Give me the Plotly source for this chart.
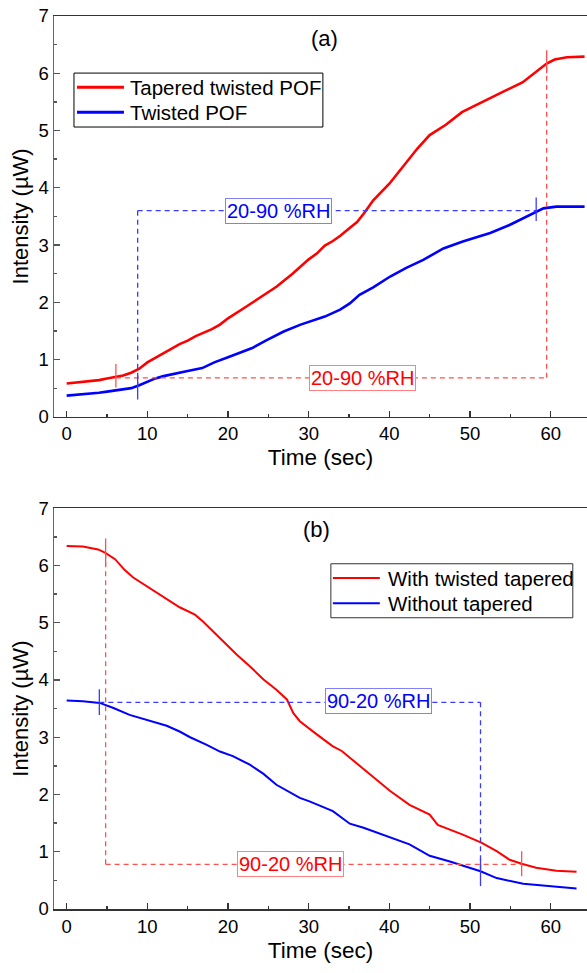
import plotly.graph_objects as go

# ---------------- data ----------------
t_a_red = [0, 2, 4, 5, 6, 7, 8, 9, 10, 11, 12, 13, 14, 15, 16, 17, 18, 19, 20, 22, 24, 26, 28,
           30, 31, 32, 33, 34, 35, 36, 37, 38, 40, 42, 43.5, 45, 47, 49, 51.5, 54, 56.5, 58,
           59.5, 60.5, 62, 64.2]
I_a_red = [0.58, 0.61, 0.64, 0.67, 0.69, 0.72, 0.77, 0.84, 0.95, 1.03, 1.10, 1.18, 1.27, 1.33,
           1.41, 1.47, 1.53, 1.61, 1.72, 1.90, 2.08, 2.27, 2.50, 2.75, 2.85, 2.99, 3.07, 3.17,
           3.29, 3.40, 3.58, 3.78, 4.07, 4.43, 4.69, 4.92, 5.10, 5.32, 5.50, 5.67, 5.84, 6.00,
           6.17, 6.24, 6.28, 6.29]

t_a_blue = [0, 2, 4, 5, 6, 7, 8, 9, 10, 11, 12, 13.5, 15, 16.8, 18.3, 20, 21.5, 23, 24.8, 26.9,
            29, 30, 32, 33.9, 35.1, 36.3, 38, 40.1, 42.1, 44.2, 46.7, 49.1, 52.5, 54.9, 57.4,
            59.1, 60.7, 64.2]
I_a_blue = [0.37, 0.39, 0.42, 0.44, 0.46, 0.48, 0.50, 0.55, 0.61, 0.67, 0.71, 0.76, 0.80, 0.85,
            0.95, 1.04, 1.12, 1.20, 1.34, 1.49, 1.61, 1.66, 1.75, 1.87, 1.98, 2.13, 2.26, 2.45,
            2.60, 2.74, 2.94, 3.06, 3.21, 3.35, 3.52, 3.64, 3.67, 3.67]

t_b_red = [0, 2, 3.9, 4.8, 6, 7.2, 8.25, 10.3, 12.4, 14, 15.9, 16.9, 18, 19.8, 21.1, 22.7, 24.4,
           26, 27.3, 28.1, 28.9, 31, 33, 34.1, 35.9, 38.4, 40.1, 42.5, 45, 46, 47.5, 49.1, 51.4,
           53.3, 54.9, 56.4, 58.2, 60.7, 63.2]
I_b_red = [6.34, 6.33, 6.28, 6.22, 6.11, 5.92, 5.79, 5.60, 5.42, 5.27, 5.14, 5.02, 4.87, 4.62,
           4.44, 4.24, 4.01, 3.83, 3.66, 3.42, 3.28, 3.05, 2.84, 2.76, 2.55, 2.26, 2.06, 1.82,
           1.65, 1.47, 1.39, 1.30, 1.16, 1.01, 0.86, 0.79, 0.72, 0.67, 0.65]

t_b_blue = [0, 2, 4.1, 5.8, 7.8, 9.9, 12.4, 14, 15.3, 17.3, 19, 20.6, 22.7, 24.4, 26, 28.9, 30.1,
            33, 35.1, 36.8, 40.1, 42.5, 45, 47.5, 51.3, 53.3, 56.6, 59.9, 63.2]
I_b_blue = [3.64, 3.63, 3.60, 3.51, 3.39, 3.30, 3.20, 3.10, 3.00, 2.87, 2.75, 2.67, 2.52, 2.36,
            2.17, 1.94, 1.88, 1.71, 1.49, 1.42, 1.26, 1.13, 0.93, 0.83, 0.66, 0.54, 0.44, 0.40,
            0.36]

names_a = ["Tapered twisted POF", "Twisted POF"]
names_b = ["With twisted tapered", "Without tapered"]

# response-time markers: (t_start, t_end, level)
rh_a_red = (6.1, 59.5, 0.68)      # 20-90 %RH, tapered
rh_a_blue = (8.8, 58.2, 3.6)      # 20-90 %RH, twisted
rh_b_red = (4.83, 56.4, 0.78)     # 90-20 %RH, tapered
rh_b_blue = (4.05, 51.3, 3.61)    # 90-20 %RH, without taper
lbl_a_red = (36.65, 0.68, "20-90 %RH")
lbl_a_blue = (26.3, 3.6, "20-90 %RH")
lbl_b_red = (27.8, 0.79, "90-20 %RH")
lbl_b_blue = (38.6, 3.64, "90-20 %RH")

RED = "#ff0000"
BLUE = "#0000ff"
DRED = "#ff5050"
DBLUE = "#3a3aff"
FONT = "Arial, Liberation Sans, sans-serif"

fig = go.Figure()
fig.add_trace(go.Scatter(x=t_a_red, y=I_a_red, mode="lines", name=names_a[0],
                         line=dict(color=RED, width=2.6), xaxis="x", yaxis="y"))
fig.add_trace(go.Scatter(x=t_a_blue, y=I_a_blue, mode="lines", name=names_a[1],
                         line=dict(color=BLUE, width=2.6), xaxis="x", yaxis="y"))
fig.add_trace(go.Scatter(x=t_b_red, y=I_b_red, mode="lines", name=names_b[0],
                         line=dict(color=RED, width=2), xaxis="x2", yaxis="y2"))
fig.add_trace(go.Scatter(x=t_b_blue, y=I_b_blue, mode="lines", name=names_b[1],
                         line=dict(color=BLUE, width=2), xaxis="x2", yaxis="y2"))

shapes = []
annotations = []
def dline(xr, yr, x0, y0, x1, y1, color):
    shapes.append(dict(type="line", xref=xr, yref=yr, x0=x0, y0=y0, x1=x1, y1=y1,
                       line=dict(color=color, width=1.3, dash="5px,4px")))
def tick(xr, yr, x, y0, y1, color):
    shapes.append(dict(type="line", xref=xr, yref=yr, x0=x, y0=y0, x1=x, y1=y1,
                       line=dict(color=color, width=1.3)))

# panel (a)
dline("x", "y", rh_a_red[0], rh_a_red[2], rh_a_red[1], rh_a_red[2], DRED)
dline("x", "y", rh_a_red[1], rh_a_red[2], rh_a_red[1], 6.17, DRED)
tick("x", "y", rh_a_red[0], 0.51, 0.92, DRED)
tick("x", "y", rh_a_red[1], 6.0, 6.4, DRED)
dline("x", "y", rh_a_blue[0], rh_a_blue[2], rh_a_blue[1], rh_a_blue[2], DBLUE)
dline("x", "y", rh_a_blue[0], rh_a_blue[2], rh_a_blue[0], 0.55, DBLUE)
tick("x", "y", rh_a_blue[0], 0.30, 0.72, DBLUE)
tick("x", "y", rh_a_blue[1], 3.42, 3.83, DBLUE)
# panel (b)
dline("x2", "y2", rh_b_red[0], rh_b_red[2], rh_b_red[1], rh_b_red[2], DRED)
dline("x2", "y2", rh_b_red[0], rh_b_red[2], rh_b_red[0], 6.2, DRED)
tick("x2", "y2", rh_b_red[0], 6.0, 6.47, DRED)
tick("x2", "y2", rh_b_red[1], 0.57, 1.01, DRED)
dline("x2", "y2", rh_b_blue[0], rh_b_blue[2], rh_b_blue[1], rh_b_blue[2], DBLUE)
dline("x2", "y2", rh_b_blue[1], rh_b_blue[2], rh_b_blue[1], 0.66, DBLUE)
tick("x2", "y2", rh_b_blue[0], 3.39, 3.84, DBLUE)
tick("x2", "y2", rh_b_blue[1], 0.40, 0.88, DBLUE)

for (xr, yr, lbl, col, bcol) in [("x", "y", lbl_a_red, RED, "#ff8080"),
                                 ("x", "y", lbl_a_blue, BLUE, "#8080ff"),
                                 ("x2", "y2", lbl_b_red, RED, "#ff8080"),
                                 ("x2", "y2", lbl_b_blue, BLUE, "#8080ff")]:
    annotations.append(dict(xref=xr, yref=yr, x=lbl[0], y=lbl[1], text=lbl[2], showarrow=False,
                            font=dict(family=FONT, size=20, color=col), bgcolor="white",
                            bordercolor=bcol, borderwidth=1, borderpad=1))
annotations.append(dict(xref="x", yref="y", x=32, y=6.61, text="(a)", showarrow=False,
                        font=dict(family=FONT, size=22, color="black")))
annotations.append(dict(xref="x2", yref="y2", x=31, y=6.62, text="(b)", showarrow=False,
                        font=dict(family=FONT, size=22, color="black")))

# ---- hand-drawn legends (box, line samples, labels), built from the trace names ----
def legend_box(xr, yr, box, seg, ys, tx, names, width, border):
    shapes.append(dict(type="rect", xref=xr, yref=yr, x0=box[0], x1=box[1], y0=box[2],
                       y1=box[3], line=dict(color=border, width=1), fillcolor="white",
                       layer="above"))
    for yv, col, nm in zip(ys, [RED, BLUE], names):
        shapes.append(dict(type="line", xref=xr, yref=yr, x0=seg[0], x1=seg[1], y0=yv, y1=yv,
                           line=dict(color=col, width=width), layer="above"))
        annotations.append(dict(xref=xr, yref=yr, x=tx, y=yv, text=nm, showarrow=False,
                                xanchor="left", yanchor="middle",
                                font=dict(family=FONT, size=20.5, color="black")))

legend_box("x", "y", (0.905, 31.76, 5.061, 6.003), (1.28, 7.1), (5.754, 5.318), 7.6,
           names_a, 3, "black")
legend_box("x2", "y2", (32.75, 62.74, 5.087, 6.03), (33.0, 38.82), (5.78, 5.34), 39.55,
           names_b, 2, "#333")

xrange = [-1.57, 64.5]
def xax(anchor):
    return dict(range=xrange, anchor=anchor, showgrid=False, zeroline=False, showline=True,
                mirror=True, linecolor="#333", linewidth=1.5, ticks="inside", ticklen=6,
                tickwidth=1.3, tickcolor="#333", dtick=10, tick0=0,
                minor=dict(ticks="inside", ticklen=3, dtick=5, tickcolor="#333"),
                tickfont=dict(family=FONT, size=18.5, color="black"),
                title=dict(text="Time (sec)", font=dict(family=FONT, size=22.5, color="black"),
                           standoff=6))
def yax(anchor, dom):
    return dict(range=[0, 7], domain=dom, anchor=anchor, showgrid=False, zeroline=False,
                showline=True, linecolor="#666", linewidth=1.5, ticks="inside", ticklen=6,
                tickwidth=1.3, tickcolor="#555", dtick=1,
                minor=dict(ticks="inside", ticklen=3, dtick=0.5, tickcolor="#555"),
                tickfont=dict(family=FONT, size=18.5, color="black"),
                title=dict(text="Intensity (µW)", font=dict(family=FONT, size=22, color="black"),
                           standoff=4))

fig.update_layout(
    width=587, height=973,
    margin=dict(l=54, r=0, t=16, b=63.5),
    plot_bgcolor="white", paper_bgcolor="white",
    font=dict(family=FONT),
    showlegend=False,
    hovermode=False,
    xaxis=xax("y"), yaxis=yax("x", [0.5512, 1.0]),
    xaxis2=xax("y2"), yaxis2=yax("x2", [0.0, 0.4488]),
    shapes=shapes, annotations=annotations,
)

fig.write_html(
    "out.html",
    config={"displayModeBar": False, "staticPlot": True},
    post_script="document.body.style.margin='0';"
                "document.documentElement.style.overflow='hidden';"
                "document.body.style.overflow='hidden';",
)
